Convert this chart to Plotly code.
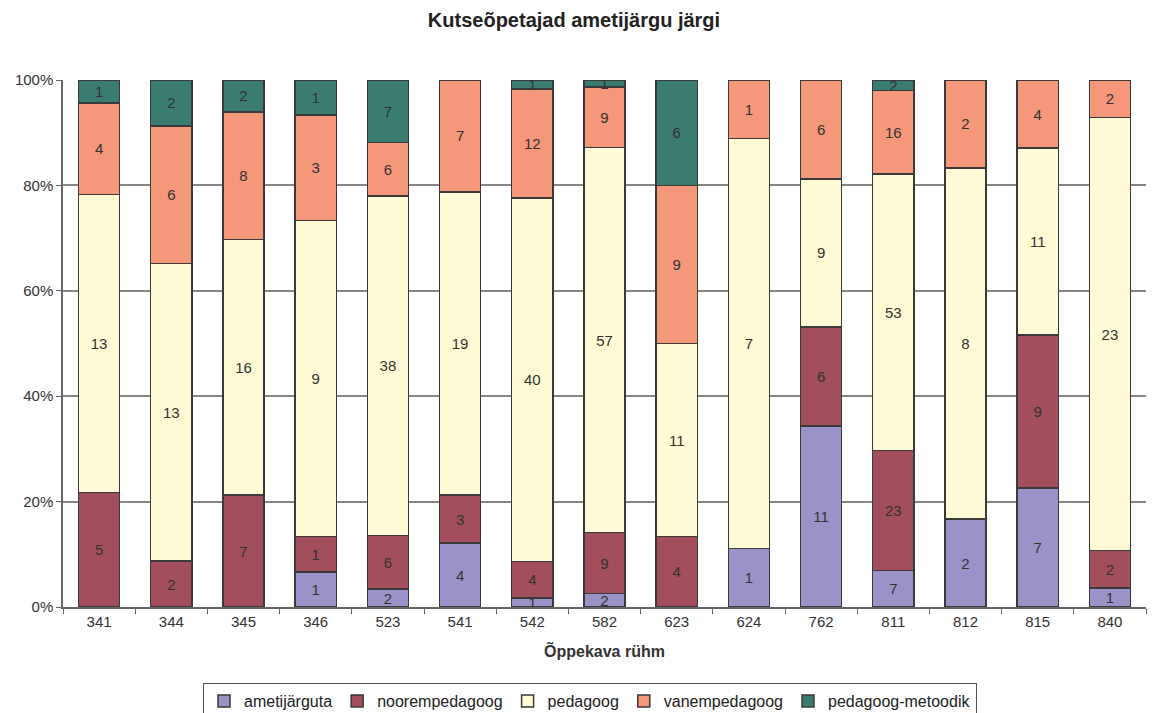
import plotly.graph_objects as go

categories = ["341", "344", "345", "346", "523", "541", "542", "582", "623", "624", "762", "811", "812", "815", "840"]
ametijarguta = [0, 0, 0, 1, 2, 4, 1, 2, 0, 1, 11, 7, 2, 7, 1]
noorempedagoog = [5, 2, 7, 1, 6, 3, 4, 9, 4, 0, 6, 23, 0, 9, 2]
pedagoog = [13, 13, 16, 9, 38, 19, 40, 57, 11, 7, 9, 53, 8, 11, 23]
vanempedagoog = [4, 6, 8, 3, 6, 7, 12, 9, 9, 1, 6, 16, 2, 4, 2]
metoodik = [1, 2, 2, 1, 7, 0, 1, 1, 6, 0, 0, 2, 0, 0, 0]

series = [
    ("ametijärguta", ametijarguta, "#9B93C8"),
    ("noorempedagoog", noorempedagoog, "#A24E5C"),
    ("pedagoog", pedagoog, "#FFFBD6"),
    ("vanempedagoog", vanempedagoog, "#F4977A"),
    ("pedagoog-metoodik", metoodik, "#3A7D70"),
]

FONT = "Liberation Sans, Arial"
W, H = 1151, 705  # page body has an 8px margin

fig = go.Figure()
for name, vals, color in series:
    fig.add_trace(go.Bar(
        x=categories, y=vals, name=name,
        marker=dict(color=color, line=dict(color="#3a3a3a", width=1.5)),
        text=[str(v) if v else "" for v in vals],
        textposition="inside", insidetextanchor="middle", textangle=0,
        textfont=dict(size=15, color="#333333", family=FONT),
        constraintext="none",
        hoverinfo="name+y",
    ))

fig.update_layout(
    barmode="stack", barnorm="percent", bargap=0.43,
    width=W, height=H,
    paper_bgcolor="white", plot_bgcolor="white",
    margin=dict(l=55, r=13, t=72, b=106),
    font=dict(family=FONT, size=15, color="#333333"),
    title=dict(text="<b>Kutseõpetajad ametijärgu järgi</b>", x=566 / W, xanchor="center",
               y=1 - 12 / H, yanchor="middle", font=dict(size=20, color="#222222")),
    uniformtext=dict(minsize=15, mode="show"),
    legend=dict(orientation="h", xref="container", yref="container",
                x=582 / W, xanchor="center", y=1 - 675 / H, yanchor="top",
                bordercolor="#555555", borderwidth=1, font=dict(size=16, color="#222222"),
                traceorder="normal", itemwidth=30),
    showlegend=True,
)
fig.update_yaxes(range=[0, 100], tickvals=[0, 20, 40, 60, 80, 100],
                 ticktext=["0%", "20%", "40%", "60%", "80%", "100%"],
                 showgrid=True, gridcolor="#8a8484", gridwidth=1.5,
                 showline=True, linecolor="#666666", linewidth=1.5,
                 ticks="outside", ticklen=5, tickcolor="#666666",
                 tickfont=dict(size=15, color="#333333"), zeroline=False, automargin=False)
fig.update_xaxes(type="category", showline=True, linecolor="#666666", linewidth=1.5,
                 ticks="outside", ticklen=5, tickcolor="#666666", tickson="boundaries",
                 tickfont=dict(size=15, color="#333333"), automargin=False,
                 title=dict(text="<b>Õppekava rühm</b>", font=dict(size=16, color="#333333"), standoff=17))

fig.write_html("out.html")
